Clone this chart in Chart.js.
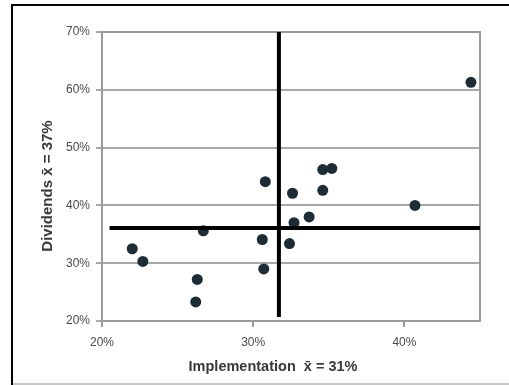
<!DOCTYPE html>
<html>
<head>
<meta charset="utf-8">
<script src="https://cdn.jsdelivr.net/npm/chart.js@4"></script>
<style>
  html, body { margin: 0; padding: 0; background: #fff; }
  #wrap { position: relative; width: 509px; height: 385px; }
  canvas { position: absolute; left: 0; top: 0; }
</style>
</head>
<body>
<div id="wrap"><canvas id="c" width="509" height="385"></canvas></div>
<script>
// Data (percent)
const implementation = [22.0, 22.7, 26.3, 26.2, 26.7, 30.6, 30.7, 30.8, 32.6, 32.7, 32.4, 33.7, 34.6, 34.6, 35.2, 40.7, 44.4];
const dividends      = [32.5, 30.3, 27.2, 23.3, 35.6, 34.1, 29.0, 44.1, 42.1, 37.0, 33.4, 38.0, 42.6, 46.2, 46.4, 40.0, 61.3];
// Mean reference lines
const meanLineX = [31.7, 31.7];
const meanLineXY = [70, 20.7];
const meanLineYX = [20.5, 45];
const meanLineY = [36.1, 36.1];
const xTicks = [20, 30, 40];
const yTicks = [20, 30, 40, 50, 60, 70];
const xTitle = 'Implementation  x\u0304 = 31%';
const yTitle = 'Dividends x\u0304 = 37%';

const pts = implementation.map((x, i) => ({x: x, y: dividends[i]}));
const vLine = meanLineX.map((x, i) => ({x: x, y: meanLineXY[i]}));
const hLine = meanLineYX.map((x, i) => ({x: x, y: meanLineY[i]}));

const framePlugin = {
  id: 'frame',
  beforeDraw(chart) {
    const ctx = chart.ctx;
    ctx.save();
    ctx.fillStyle = '#fff';
    ctx.fillRect(0, 0, chart.width, chart.height);
    ctx.fillStyle = '#000';
    ctx.fillRect(11, 4, 498, 2);
    ctx.fillRect(11, 4, 2, 381);
    ctx.fillStyle = '#c8c8c8';
    ctx.fillRect(13, 383, 496, 2);
    ctx.restore();
  },
  beforeDatasetsDraw(chart) {
    const a = chart.chartArea, ctx = chart.ctx;
    ctx.save();
    ctx.strokeStyle = '#9a9a9a';
    ctx.lineWidth = 2;
    ctx.strokeRect(a.left, a.top, a.right - a.left, a.bottom - a.top);
    ctx.restore();
  },
  afterDraw(chart) {
    const ctx = chart.ctx;
    ctx.save();
    ctx.fillStyle = '#383838';
    ctx.font = 'bold 14.5px "Liberation Sans", Arial, sans-serif';
    ctx.textAlign = 'center';
    ctx.textBaseline = 'middle';
    ctx.fillText(xTitle, 273, 367);
    ctx.font = 'bold 15px "Liberation Sans", Arial, sans-serif';
    ctx.translate(48, 186);
    ctx.rotate(-Math.PI / 2);
    ctx.fillText(yTitle, 0, 0);
    ctx.restore();
  }
};

new Chart(document.getElementById('c'), {
  type: 'scatter',
  data: {
    datasets: [
      { data: vLine, showLine: true, borderColor: '#000', borderWidth: 4, pointRadius: 0, order: 0 },
      { data: hLine, showLine: true, borderColor: '#000', borderWidth: 4, pointRadius: 0, order: 0 },
      { data: pts, backgroundColor: '#1d2c35', borderColor: '#1d2c35', pointRadius: 5.5, borderWidth: 0, order: 1 }
    ]
  },
  options: {
    responsive: false,
    animation: false,
    devicePixelRatio: 1,
    layout: { padding: { top: 32, right: 29, left: 0, bottom: 0 } },
    plugins: { legend: { display: false }, tooltip: { enabled: false } },
    scales: {
      x: {
        type: 'linear', min: 20, max: 45,
        afterFit(s) { s.height = 64; },
        afterBuildTicks(s) { s.ticks = xTicks.map(v => ({value: v})); },
        grid: { drawOnChartArea: false, color: '#9a9a9a', lineWidth: 2, tickLength: 6 },
        border: { display: false },
        ticks: { padding: 8, color: '#4a4a4a', font: { family: '"Liberation Sans", Arial, sans-serif', size: 12 }, callback: v => v + '%' }
      },
      y: {
        type: 'linear', min: 20, max: 70,
        afterFit(s) { s.width = 102; },
        afterBuildTicks(s) { s.ticks = yTicks.map(v => ({value: v})); },
        grid: { color: '#a8a8a8', lineWidth: 2, tickLength: 6 },
        border: { display: false },
        ticks: { padding: 6, color: '#4a4a4a', font: { family: '"Liberation Sans", Arial, sans-serif', size: 12 }, callback: v => v + '%' }
      }
    }
  },
  plugins: [framePlugin]
});
</script>
</body>
</html>
